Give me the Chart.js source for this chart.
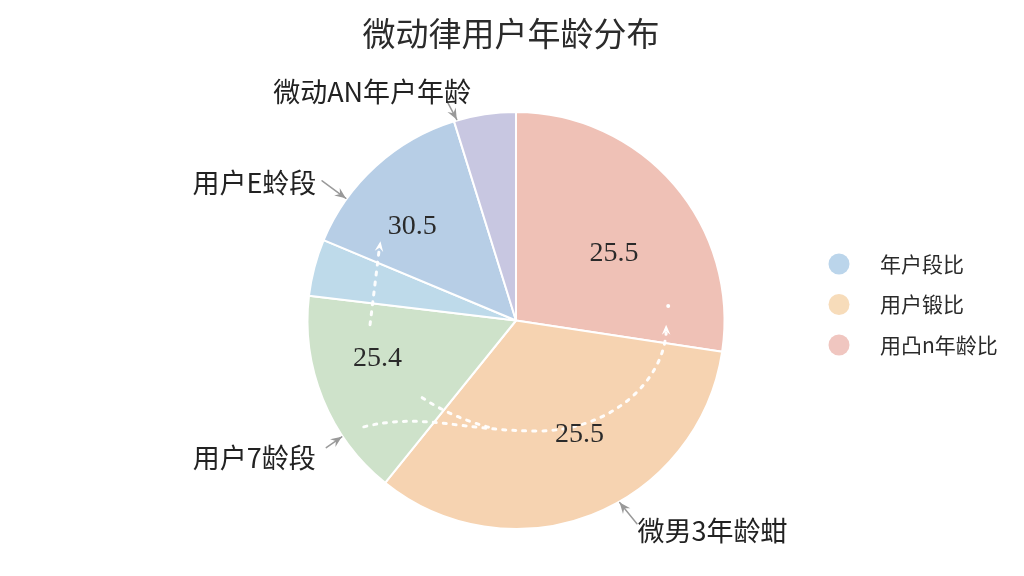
<!DOCTYPE html>
<html><head><meta charset="utf-8">
<script src="https://cdn.jsdelivr.net/npm/chart.js@4/dist/chart.umd.min.js"></script>
<style>html,body{margin:0;padding:0;background:#fff}#wrap{width:1024px;height:576px}</style>
</head><body><div id="wrap"><canvas id="c" width="1024" height="576"></canvas></div>
<script>
const titleText = '微动律用户年龄分布';
const sliceNames = ['', '微男3年龄蚶', '用户7龄段', '', '用户E蛉段', '微动AN年户年龄'];
const sliceValues = [27.4, 33.4, 16.1, 4.4, 13.9, 4.8];
const valueLabels = ['25.5', '25.5', '25.4', '', '30.5', ''];
const sliceColors = ['#EFC1B6', '#F6D3B1', '#CEE2CA', '#BEDAEA', '#B7CEE6', '#C8C7E1'];
const legendLabels = ['年户段比', '用户锻比', '用凸n年龄比'];
const legendColors = ['#BBD5EB', '#F7DCBA', '#F0C6C0'];

// layout tweaks for value labels (in units of radius)
const labelNudge = [[0, 0.085], [0.08, -0.03], [-0.09, -0.05], [0, 0], [-0.08, 0.01], [0, 0]];

// annotation layout: slice index, fraction within slice for arrow tip, text/tail offsets in units of radius
const callouts = [
  {i: 5, f: 0.05, tx: -0.69, ty: -1.096, ax: -0.33, ay: -1.05},
  {i: 4, f: 0.26, tx: -1.255, ty: -0.663, ax: -0.93, ay: -0.67},
  {i: 2, f: 0.30, tx: -1.255, ty: 0.659, ax: -0.91, ay: 0.61},
  {i: 1, f: 0.43, tx: 0.942, ty: 1.01, ax: 0.58, ay: 0.975}
];

function arrowHead(ctx, x, y, ang, size, color) {
  ctx.save();
  ctx.fillStyle = color;
  ctx.beginPath();
  ctx.moveTo(x, y);
  ctx.lineTo(x - size * Math.cos(ang - 0.4), y - size * Math.sin(ang - 0.4));
  ctx.lineTo(x - size * 0.6 * Math.cos(ang), y - size * 0.6 * Math.sin(ang));
  ctx.lineTo(x - size * Math.cos(ang + 0.4), y - size * Math.sin(ang + 0.4));
  ctx.closePath();
  ctx.fill();
  ctx.restore();
}

const decor = {
  id: 'decor',
  afterDatasetsDraw(chart) {
    const ctx = chart.ctx;
    const meta = chart.getDatasetMeta(0);
    const a0 = meta.data[0];
    const cx = a0.x, cy = a0.y, R = a0.outerRadius;
    ctx.save();
    // decorative dotted white arrows
    ctx.strokeStyle = 'rgba(255,255,255,0.95)';
    ctx.lineWidth = 3;
    ctx.setLineDash([3, 7]);
    ctx.lineCap = 'round';
    ctx.beginPath();
    ctx.moveTo(cx - 0.73 * R, cy + 0.51 * R);
    ctx.bezierCurveTo(cx - 0.45 * R, cy + 0.44 * R, cx - 0.25 * R, cy + 0.53 * R, cx + 0.1 * R, cy + 0.53 * R);
    ctx.bezierCurveTo(cx + 0.45 * R, cy + 0.53 * R, cx + 0.7 * R, cy + 0.3 * R, cx + 0.72 * R, cy + 0.06 * R);
    ctx.stroke();
    ctx.beginPath();
    ctx.moveTo(cx - 0.45 * R, cy + 0.37 * R);
    ctx.quadraticCurveTo(cx - 0.3 * R, cy + 0.47 * R, cx - 0.1 * R, cy + 0.52 * R);
    ctx.stroke();
    ctx.beginPath();
    ctx.moveTo(cx - 0.70 * R, cy + 0.02 * R);
    ctx.lineTo(cx - 0.655 * R, cy - 0.35 * R);
    ctx.stroke();
    ctx.setLineDash([]);
    arrowHead(ctx, cx + 0.72 * R, cy + 0.02 * R, -Math.PI / 2, 11, '#fff');
    arrowHead(ctx, cx - 0.65 * R, cy - 0.38 * R, -Math.PI / 2 + 0.15, 11, '#fff');
    ctx.fillStyle = '#fff';
    ctx.beginPath(); ctx.arc(cx + 0.73 * R, cy - 0.07 * R, 2, 0, Math.PI * 2); ctx.fill();

    // value labels
    ctx.fillStyle = '#2a2a2a';
    ctx.font = '28px "Liberation Serif", "DejaVu Serif", serif';
    ctx.textAlign = 'center';
    ctx.textBaseline = 'middle';
    meta.data.forEach((arc, k) => {
      const t = valueLabels[k];
      if (!t) return;
      const m = (arc.startAngle + arc.endAngle) / 2;
      const r = arc.outerRadius * 0.62;
      ctx.fillText(t, arc.x + Math.cos(m) * r + labelNudge[k][0] * R, arc.y + Math.sin(m) * r + labelNudge[k][1] * R);
    });

    // callouts
    ctx.font = '27px "Noto Sans CJK SC", sans-serif';
    callouts.forEach(c => {
      const arc = meta.data[c.i];
      const ang = arc.startAngle + (arc.endAngle - arc.startAngle) * c.f;
      const tipX = cx + Math.cos(ang) * (R + 1), tipY = cy + Math.sin(ang) * (R + 1);
      const tailX = cx + c.ax * R, tailY = cy + c.ay * R;
      ctx.strokeStyle = '#9a9a9a';
      ctx.lineWidth = 1.5;
      ctx.beginPath(); ctx.moveTo(tailX, tailY); ctx.lineTo(tipX, tipY); ctx.stroke();
      arrowHead(ctx, tipX, tipY, Math.atan2(tipY - tailY, tipX - tailX), 12, '#999');
      ctx.fillStyle = '#222';
      ctx.fillText(sliceNames[c.i], cx + c.tx * R, cy + c.ty * R);
    });

    // title
    ctx.fillStyle = '#2b2b2b';
    ctx.font = '33px "Noto Sans CJK SC", sans-serif';
    ctx.fillText(titleText, 511, 33);

    // legend
    ctx.textAlign = 'left';
    ctx.font = '21px "Noto Sans CJK SC", sans-serif';
    legendLabels.forEach((t, k) => {
      const y = 264 + k * 40.5;
      ctx.fillStyle = legendColors[k];
      ctx.beginPath(); ctx.arc(839, y, 10.5, 0, Math.PI * 2); ctx.fill();
      ctx.fillStyle = '#2a2a2a';
      ctx.fillText(t, 880, y);
    });
    ctx.restore();
  }
};

new Chart(document.getElementById('c'), {
  type: 'pie',
  data: {
    labels: sliceNames,
    datasets: [{
      data: sliceValues,
      backgroundColor: sliceColors,
      borderColor: '#ffffff',
      borderWidth: 2
    }]
  },
  options: {
    responsive: false,
    animation: false,
    layout: {padding: {top: 111, bottom: 46, left: 306, right: 298}},
    plugins: {legend: {display: false}, tooltip: {enabled: false}, title: {display: false}}
  },
  plugins: [decor]
});
</script>
</body></html>
